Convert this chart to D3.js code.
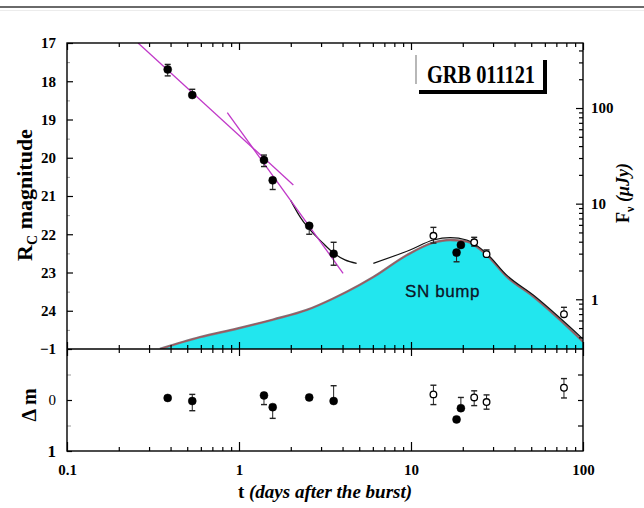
<!DOCTYPE html>
<html>
<head>
<meta charset="utf-8">
<script src="https://cdn.jsdelivr.net/npm/d3@7/dist/d3.min.js"></script>
<style>
  body { margin: 0; background: #fff; }
  svg { display: block; }
  .tk text { font-family: 'Liberation Serif', 'Times New Roman', serif; font-weight: bold; font-size: 15px; fill: #000; }
  .tk path.domain { display: none; }
  .tk line { stroke: #000; stroke-width: 1.2; }
  .tk.faint line { stroke: #9a9a9a; stroke-width: 1; }
</style>
</head>
<body>
<script>
// observed photometry (days after burst, R_C magnitude)
const ptT = [0.385, 0.535, 1.397, 1.57, 2.56, 3.55, 13.5, 18.4, 19.5, 23.3, 27.5, 77.5]
const ptMag = [17.69, 18.36, 20.06, 20.59, 21.78, 22.51, 22.04, 22.48, 22.28, 22.21, 22.52, 24.09]
const ptErrUp = [0.13, 0.15, 0.13, 0.05, 0.05, 0.3, 0.22, 0.05, 0.05, 0.13, 0.11, 0.18]
const ptErrDn = [0.17, 0.05, 0.17, 0.24, 0.22, 0.3, 0.19, 0.24, 0.05, 0.1, 0.05, 0.05]
const ptOpen = [false, false, false, false, false, false, true, false, false, true, true, true]

// residuals (delta m)
const resid = [-0.04, 0.02, -0.09, 0.14, -0.05, 0.02, -0.11, 0.38, 0.16, -0.05, 0.04, -0.24]
const residErrUp = [0.04, 0.13, 0.05, 0.05, 0.04, 0.3, 0.18, 0.04, 0.21, 0.13, 0.14, 0.18]
const residErrDn = [0.04, 0.19, 0.18, 0.22, 0.04, 0.04, 0.2, 0.04, 0.04, 0.16, 0.14, 0.2]

// power-law fits (magenta)
const fitEarlyT = [0.259, 2.07]
const fitEarlyMag = [17.0, 20.71]
const fitLateT = [0.855, 4.03]
const fitLateMag = [18.82, 23.02]

// supernova bump template
const snT = [0.347, 0.593, 0.97, 1.58, 2.48, 3.53, 5.05, 6.04, 9.44, 13.5, 16.9, 21.1, 27.5, 36.0, 51.4, 73.5, 100]
const snMag = [25.0, 24.69, 24.47, 24.23, 23.98, 23.68, 23.32, 23.12, 22.55, 22.22, 22.15, 22.19, 22.54, 23.11, 23.63, 24.24, 24.81]

// total model (afterglow + SN), drawn in two pieces
const totAT = [2.0, 2.26, 3.09, 3.57, 4.13, 4.83]
const totAMag = [21.12, 21.54, 22.24, 22.50, 22.67, 22.76]
const totBT = [6.04, 9.87, 13.5, 16.9, 21.1, 27.5, 36, 51.4, 73.5, 100]
const totBMag = [22.76, 22.41, 22.15, 22.09, 22.15, 22.50, 23.07, 23.59, 24.19, 24.74]

// tick values
const xMajor = [0.1, 1, 10, 100]
const magMajor = [17, 18, 19, 20, 21, 22, 23, 24]
const fluxMajor = [1, 10, 100]
const dmMajor = [-1, 0, 1]

const W = 644
const H = 508
const xL = 67
const xR = 583
const yT = 43
const yM = 349
const yB = 451
const m0 = 23.7 // magnitude of 1 microJy

const svg = d3.select('body').append('svg').attr('width', W).attr('height', H)

svg.append('line').attr('x1', 0).attr('x2', W).attr('y1', 7).attr('y2', 7)
   .attr('stroke', '#6a6a6a').attr('stroke-width', 2)
svg.append('line').attr('x1', 0).attr('x2', W).attr('y1', 10.5).attr('y2', 10.5)
   .attr('stroke', '#ececec').attr('stroke-width', 1)

const x = d3.scaleLog().domain([0.1, 100]).range([xL, xR])
const yMag = d3.scaleLinear().domain([17, 25]).range([yT, yM])
const yFlux = d3.scaleLog()
  .domain([Math.pow(10, (m0 - 25) / 2.5), Math.pow(10, (m0 - 17) / 2.5)])
  .range([yM, yT])
const yDm = d3.scaleLinear().domain([-1, 1]).range([yM, yB])

function minorLog (lo, hi) {
  const out = []
  for (let d = lo; d < hi; d *= 10) {
    for (let k = 2; k <= 9; k++) out.push(d * k)
  }
  return out
}
const xMinor = minorLog(0.1, 100)
const fluxMinor = minorLog(0.1, 1000).filter(function (v) {
  return v >= yFlux.domain()[0] && v <= yFlux.domain()[1]
})

svg.append('clipPath').attr('id', 'clipTop')
   .append('rect').attr('x', xL).attr('y', yT).attr('width', xR - xL).attr('height', yM - yT)

const plot = svg.append('g').attr('clip-path', 'url(#clipTop)')

// SN bump area
const sn = snT.map(function (t, i) { return { t: t, m: snMag[i] } })
plot.append('path')
    .datum(sn)
    .attr('fill', '#22e6ee')
    .attr('d', d3.area().x(function (d) { return x(d.t) }).y0(yM).y1(function (d) { return yMag(d.m) }).curve(d3.curveMonotoneX))
const snLine = d3.line().x(function (d) { return x(d.t) }).y(function (d) { return yMag(d.m) }).curve(d3.curveMonotoneX)
plot.append('path').datum(sn).attr('fill', 'none').attr('stroke', '#7c7c80').attr('stroke-width', 2.4).attr('d', snLine)
plot.append('path').datum(sn).attr('fill', 'none').attr('stroke', '#c8303a').attr('stroke-width', 0.8)
    .attr('stroke-opacity', 0.75).attr('d', snLine)

// total model
function pairs (ts, ms) { return ts.map(function (t, i) { return { t: t, m: ms[i] } }) }
const curve = d3.line().x(function (d) { return x(d.t) }).y(function (d) { return yMag(d.m) }).curve(d3.curveMonotoneX)
plot.append('path').datum(pairs(totAT, totAMag)).attr('fill', 'none').attr('stroke', '#111').attr('stroke-width', 1.2).attr('d', curve)
plot.append('path').datum(pairs(totBT, totBMag)).attr('fill', 'none').attr('stroke', '#111').attr('stroke-width', 1.2).attr('d', curve)

// power-law fits
const straight = d3.line().x(function (d) { return x(d.t) }).y(function (d) { return yMag(d.m) })
plot.append('path').datum(pairs(fitEarlyT, fitEarlyMag)).attr('fill', 'none').attr('stroke', '#c038c8').attr('stroke-width', 1.3).attr('d', straight)
plot.append('path').datum(pairs(fitLateT, fitLateMag)).attr('fill', 'none').attr('stroke', '#c038c8').attr('stroke-width', 1.3).attr('d', straight)

// data points with error bars
function drawPoints (g, yScale, vals, up, dn) {
  const pts = g.selectAll('.pt').data(ptT).enter().append('g').attr('class', 'pt')
  pts.append('line')
     .attr('x1', function (d) { return x(d) }).attr('x2', function (d) { return x(d) })
     .attr('y1', function (d, i) { return yScale(vals[i] - up[i]) })
     .attr('y2', function (d, i) { return yScale(vals[i] + dn[i]) })
     .attr('stroke', '#222').attr('stroke-width', 1)
  pts.append('line')
     .attr('x1', function (d) { return x(d) - 3 }).attr('x2', function (d) { return x(d) + 3 })
     .attr('y1', function (d, i) { return yScale(vals[i] - up[i]) })
     .attr('y2', function (d, i) { return yScale(vals[i] - up[i]) })
     .attr('stroke', '#222').attr('stroke-width', 1.4)
  pts.append('line')
     .attr('x1', function (d) { return x(d) - 3 }).attr('x2', function (d) { return x(d) + 3 })
     .attr('y1', function (d, i) { return yScale(vals[i] + dn[i]) })
     .attr('y2', function (d, i) { return yScale(vals[i] + dn[i]) })
     .attr('stroke', '#222').attr('stroke-width', 1.4)
  pts.append('circle')
     .attr('cx', function (d) { return x(d) })
     .attr('cy', function (d, i) { return yScale(vals[i]) })
     .attr('r', function (d, i) { return ptOpen[i] ? 3.3 : 4 })
     .attr('fill', function (d, i) { return ptOpen[i] ? '#fff' : '#000' })
     .attr('stroke', '#000')
     .attr('stroke-width', function (d, i) { return ptOpen[i] ? 1.3 : 0.5 })
}
drawPoints(svg.append('g'), yMag, ptMag, ptErrUp, ptErrDn)
drawPoints(svg.append('g'), yDm, resid, residErrUp, residErrDn)

// axes
function ax (axis, tx, ty, cls) {
  return svg.append('g').attr('class', 'tk' + (cls ? ' ' + cls : ''))
            .attr('transform', 'translate(' + tx + ',' + ty + ')').call(axis)
}
// top
ax(d3.axisTop(x).tickValues(xMinor).tickSize(-4).tickFormat(''), 0, yT)
ax(d3.axisTop(x).tickValues(xMajor).tickSize(-7).tickFormat(''), 0, yT)
// middle (both sides)
ax(d3.axisBottom(x).tickValues(xMinor).tickSize(4).tickFormat(''), 0, yM)
ax(d3.axisTop(x).tickValues(xMinor).tickSize(4).tickFormat(''), 0, yM)
ax(d3.axisBottom(x).tickValues(xMajor).tickSize(7).tickFormat(''), 0, yM)
ax(d3.axisTop(x).tickValues(xMajor).tickSize(7).tickFormat(''), 0, yM)
// bottom
ax(d3.axisBottom(x).tickValues(xMinor).tickSize(-4).tickFormat(''), 0, yB)
ax(d3.axisBottom(x).tickValues(xMajor).tickSize(-9).tickPadding(13).tickFormat(d3.format('')), 0, yB)
// left magnitude
ax(d3.axisLeft(yMag).tickValues(d3.range(17.5, 25, 1)).tickSize(-3).tickFormat(''), xL, 0, 'faint')
ax(d3.axisLeft(yMag).tickValues(magMajor).tickSize(-6).tickPadding(11).tickFormat(d3.format('d')), xL, 0)
// right flux
ax(d3.axisRight(yFlux).tickValues(fluxMinor).tickSize(-4).tickFormat(''), xR, 0)
ax(d3.axisRight(yFlux).tickValues(fluxMajor).tickSize(-7).tickPadding(8).tickFormat(d3.format('d')), xR, 0)
// delta m
ax(d3.axisLeft(yDm).tickValues([-0.5, 0.5]).tickSize(-4).tickFormat(''), xL, 0, 'faint')
const dmAxis = ax(d3.axisLeft(yDm).tickValues(dmMajor).tickSize(-5).tickPadding(11).tickFormat(d3.format('d')), xL, 0)
dmAxis.selectAll('text').style('font-weight', function (d) { return d === 0 ? 'normal' : 'bold' })
  .style('font-size', function (d) { return d === 1 ? '17px' : '15px' })
ax(d3.axisRight(yDm).tickValues([-0.5, 0, 0.5]).tickSize(-5).tickFormat(''), xR, 0)

// frame
svg.append('rect').attr('x', xL).attr('y', yT).attr('width', xR - xL).attr('height', yB - yT)
   .attr('fill', 'none').attr('stroke', '#000').attr('stroke-width', 1.4)
svg.append('line').attr('x1', xL).attr('x2', xR).attr('y1', yM).attr('y2', yM)
   .attr('stroke', '#000').attr('stroke-width', 1.4)

// labels
const serif = "'Liberation Serif', 'Times New Roman', serif"
const yl = svg.append('text').attr('transform', 'translate(32,195) rotate(-90)')
  .attr('text-anchor', 'middle').style('font-family', serif).style('font-weight', 'bold').style('font-size', '22px')
yl.append('tspan').text('R')
yl.append('tspan').attr('dy', 5).style('font-size', '14px').text('C')
yl.append('tspan').attr('dy', -5).text(' magnitude')

const fl = svg.append('text').attr('transform', 'translate(629,193) rotate(-90)')
  .attr('text-anchor', 'middle').style('font-family', serif).style('font-weight', 'bold').style('font-size', '18px')
fl.append('tspan').text('F')
fl.append('tspan').attr('dy', 5).style('font-size', '12px').text('ν')
fl.append('tspan').attr('dy', -5).style('font-style', 'italic').text(' (μJy)')

svg.append('text').attr('transform', 'translate(36,405) rotate(-90)')
  .attr('text-anchor', 'middle').style('font-family', serif).style('font-weight', 'bold').style('font-size', '20px')
  .text('Δ m')

const xl = svg.append('text').attr('x', 325).attr('y', 498)
  .attr('text-anchor', 'middle').style('font-family', serif).style('font-weight', 'bold').style('font-size', '19px')
xl.append('tspan').text('t ')
xl.append('tspan').style('font-style', 'italic').text('(days after the burst)')

svg.append('text').attr('x', 405).attr('y', 297)
  .style('font-family', "'Liberation Sans', Arial, sans-serif").style('font-size', '17px')
  .style('letter-spacing', '0.6px').attr('fill', '#0c1428').attr('stroke', '#0c1428').attr('stroke-width', 0.3)
  .text('SN  bump')

// GRB label box
svg.append('line').attr('x1', 416).attr('x2', 416).attr('y1', 55).attr('y2', 84).attr('stroke', '#888').attr('stroke-width', 1.2)
svg.append('line').attr('x1', 545).attr('x2', 545).attr('y1', 60).attr('y2', 94).attr('stroke', '#000').attr('stroke-width', 4)
svg.append('line').attr('x1', 419).attr('x2', 547).attr('y1', 92).attr('y2', 92).attr('stroke', '#000').attr('stroke-width', 4)
svg.append('text').attr('x', 427).attr('y', 83)
  .attr('textLength', 108).attr('lengthAdjust', 'spacingAndGlyphs')
  .style('font-family', serif).style('font-weight', 'bold').style('font-size', '25px').text('GRB 011121')
</script>
</body>
</html>
